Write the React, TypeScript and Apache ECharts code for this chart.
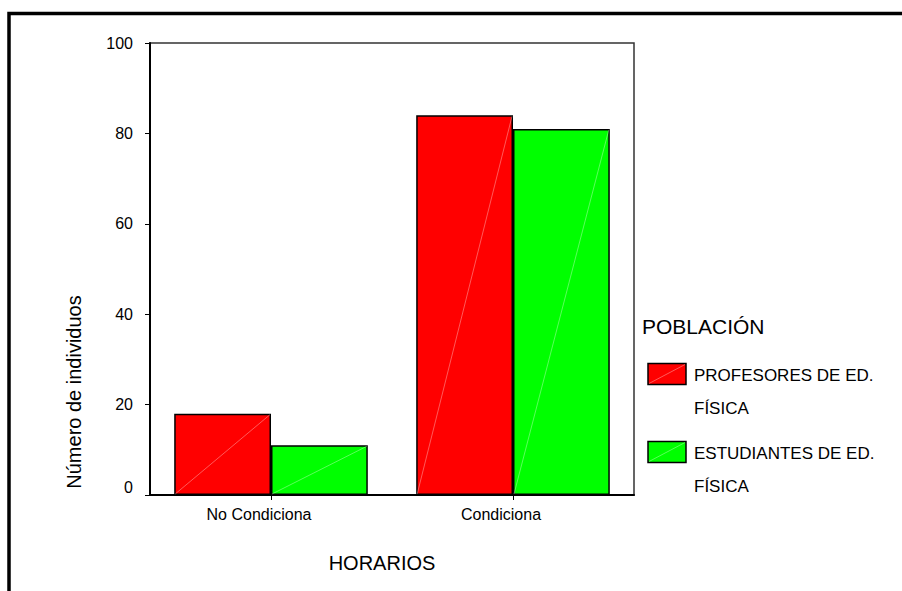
import React, { useEffect, useRef } from "react";
import * as echarts from "echarts";

const categories = ["No Condiciona", "Condiciona"];
const seriesNames = ["PROFESORES DE ED. FÍSICA", "ESTUDIANTES DE ED. FÍSICA"];
const profesores = [18, 84];
const estudiantes = [11, 81];
const seriesColors = ["#FF0000", "#00FF00"];
const yMin = 0;
const yMax = 100;
const yInterval = 20;
const legendTitle = "POBLACIÓN";
const xTitle = "HORARIOS";
const yTitle = "Número de individuos";

const FONT = '"Liberation Sans", Arial, sans-serif';

function splitName(name: string): [string, string] {
  const i = name.lastIndexOf(" ");
  return [name.slice(0, i), name.slice(i + 1)];
}

export default function App() {
  const ref = useRef<HTMLDivElement>(null);
  useEffect(() => {
    if (!ref.current) return;
    const chart = echarts.init(ref.current, null, { renderer: "svg" });
    const values = [profesores, estudiantes];

    const diagData: number[][] = [];
    values.forEach((arr, s) => arr.forEach((v, i) => diagData.push([i, v, s])));

    const legendGraphics: any[] = [];
    const itemTops = [363.5, 441.5];
    seriesNames.forEach((name, s) => {
      const top = itemTops[s];
      const [l1, l2] = splitName(name);
      legendGraphics.push({
        type: "rect",
        shape: { x: 648, y: top, width: 38, height: 21 },
        style: { fill: seriesColors[s], stroke: "#000", lineWidth: 1.5 },
      });
      legendGraphics.push({
        type: "line",
        shape: { x1: 649, y1: top + 20, x2: 685, y2: top + 1 },
        style: { stroke: "rgba(255,255,255,0.35)", lineWidth: 1 },
      });
      legendGraphics.push({
        type: "text",
        x: 694,
        y: top + 11.5,
        style: { text: l1, fill: "#000", font: `17px ${FONT}`, align: "left", verticalAlign: "middle" },
      });
      legendGraphics.push({
        type: "text",
        x: 694,
        y: top + 45,
        style: { text: l2, fill: "#000", font: `17px ${FONT}`, align: "left", verticalAlign: "middle" },
      });
    });

    chart.setOption({
      animation: false,
      backgroundColor: "#fff",
      grid: {
        left: 150,
        right: 268,
        top: 43,
        bottom: 96,
        show: true,
        borderColor: "#333",
        borderWidth: 1.5,
        backgroundColor: "transparent",
      },
      xAxis: {
        type: "category",
        data: categories,
        axisLine: { show: true, lineStyle: { color: "#000", width: 2 } },
        axisTick: { show: true, alignWithLabel: true, length: 5, lineStyle: { color: "#000", width: 1 } },
        axisLabel: {
          color: "#000",
          fontSize: 16,
          fontFamily: FONT,
          margin: 11,
          padding: [0, 24, 0, 0],
        },
        splitLine: { show: false },
      },
      yAxis: {
        type: "value",
        min: yMin,
        max: yMax,
        interval: yInterval,
        axisLine: { show: true, lineStyle: { color: "#000", width: 2 } },
        axisTick: { show: true, length: 5, lineStyle: { color: "#000", width: 1 } },
        axisLabel: {
          color: "#000",
          fontSize: 16,
          fontFamily: FONT,
          margin: 17,
          formatter: (v: number) => (v === 0 ? "{zero|0}" : String(v)),
          rich: {
            zero: { fontSize: 16, fontFamily: FONT, color: "#000", padding: [0, 0, 16, 0] },
          },
        },
        splitLine: { show: false },
      },
      series: [
        ...values.map((arr, s) => ({
          name: seriesNames[s],
          type: "bar",
          data: arr,
          barGap: "0%",
          barCategoryGap: "20%",
          itemStyle: { color: seriesColors[s], borderColor: "#000", borderWidth: 1.5 },
          z: 2,
        })),
        {
          type: "custom",
          silent: true,
          z: 3,
          data: diagData,
          renderItem: (params: any, api: any) => {
            const cat = api.value(0);
            const val = api.value(1);
            const s = api.value(2);
            const base = api.coord([cat, 0]);
            const top = api.coord([cat, val]);
            const band = api.size([1, 0])[0];
            const bw = band * 0.4;
            const x0 = base[0] - band * 0.4 + s * bw;
            return {
              type: "line",
              shape: { x1: x0 + 1, y1: base[1] - 1, x2: x0 + bw - 1, y2: top[1] + 1 },
              style: { stroke: "rgba(255,255,255,0.35)", lineWidth: 1 },
            };
          },
        },
      ],
      graphic: [
        {
          type: "rect",
          shape: { x: 9, y: 13.5, width: 1000, height: 1000 },
          style: { fill: "none", stroke: "#000", lineWidth: 3.5 },
          z: 10,
        },
        {
          type: "text",
          x: 642,
          y: 326,
          style: { text: legendTitle, fill: "#000", font: `21px ${FONT}`, align: "left", verticalAlign: "middle" },
        },
        ...legendGraphics,
        {
          type: "text",
          x: 382,
          y: 563,
          style: { text: xTitle, fill: "#000", font: `20px ${FONT}`, align: "center", verticalAlign: "middle" },
        },
        {
          type: "text",
          x: 74,
          y: 392,
          rotation: Math.PI / 2,
          style: { text: yTitle, fill: "#000", font: `20px ${FONT}`, align: "center", verticalAlign: "middle" },
        },
      ],
    });
    return () => chart.dispose();
  }, []);
  return (
    <div
      ref={ref}
      style={{ position: "fixed", left: 0, top: 0, width: 902, height: 591, background: "#fff" }}
    />
  );
}
